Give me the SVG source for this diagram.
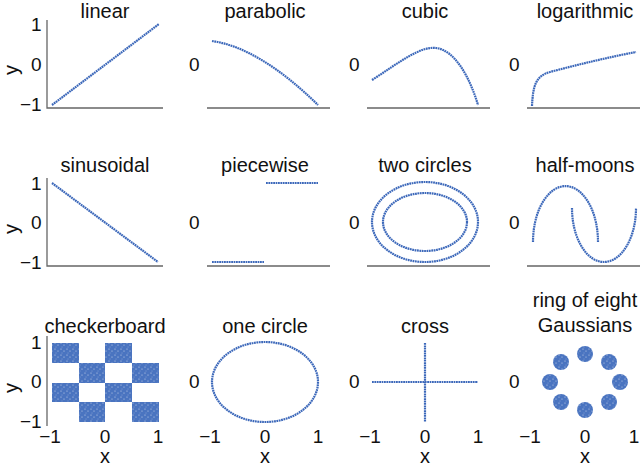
<svg xmlns="http://www.w3.org/2000/svg" width="640" height="468" viewBox="0 0 640 468">
<style>
text{font-family:"Liberation Sans",Arial,sans-serif;font-size:19px;fill:#111}
.h{font-size:20px}
.t{text-anchor:middle}
.ax{stroke:#666;stroke-width:1.3;fill:none}
.d{stroke:#3c68ba;stroke-width:2.2;fill:none;stroke-dasharray:1.8 0.6}
.f{fill:url(#dots)}
</style>
<defs>
<pattern id="dots" width="6" height="6" patternUnits="userSpaceOnUse">
<rect width="6" height="6" fill="#4a74c0"/>
<circle cx="1" cy="1" r="0.6" fill="#c8d4ec"/><circle cx="4" cy="3" r="0.5" fill="#dfe6f4"/><circle cx="2" cy="5" r="0.45" fill="#b0c2e4"/>
</pattern>
</defs>
<rect width="640" height="468" fill="#fff"/>
<g id="axes">
<path class="ax" d="M47,20V108H163M207,108H330M367,108H490M527,108H640"/>
<path class="ax" d="M47,178V266H163M207,266H330M367,266H490M527,266H640"/>
<path class="ax" d="M47,336V426"/>
</g>
<g id="labels">
<text x="105" y="18" class="t h">linear</text>
<text x="265" y="18" class="t h">parabolic</text>
<text x="425" y="18" class="t h">cubic</text>
<text x="585" y="18" class="t h">logarithmic</text>
<text x="105" y="172" class="t h">sinusoidal</text>
<text x="265" y="172" class="t h">piecewise</text>
<text x="425" y="172" class="t h">two circles</text>
<text x="585" y="172" class="t h">half-moons</text>
<text x="105" y="333" class="t h">checkerboard</text>
<text x="265" y="333" class="t h">one circle</text>
<text x="425" y="333" class="t h">cross</text>
<text x="585" y="307" class="t h">ring of eight</text>
<text x="585" y="332" class="t h">Gaussians</text>
<text x="31" y="31">1</text><text x="31" y="71">0</text><text x="20" y="111">−1</text>
<text x="31" y="190">1</text><text x="31" y="229">0</text><text x="20" y="269">−1</text>
<text x="31" y="349">1</text><text x="31" y="388">0</text><text x="20" y="428">−1</text>
<text x="189" y="71">0</text><text x="349" y="71">0</text><text x="509" y="71">0</text>
<text x="189" y="229">0</text><text x="349" y="229">0</text><text x="509" y="229">0</text>
<text x="189" y="388">0</text><text x="349" y="388">0</text><text x="509" y="388">0</text>
<text x="12" y="76" class="t h" transform="rotate(-90 12 70)">y</text>
<text x="12" y="235" class="t h" transform="rotate(-90 12 229)">y</text>
<text x="12" y="394" class="t h" transform="rotate(-90 12 388)">y</text>
<text x="50" y="443" class="t">−1</text><text x="105" y="443" class="t">0</text><text x="158" y="443" class="t">1</text>
<text x="210" y="443" class="t">−1</text><text x="265" y="443" class="t">0</text><text x="318" y="443" class="t">1</text>
<text x="370" y="443" class="t">−1</text><text x="425" y="443" class="t">0</text><text x="478" y="443" class="t">1</text>
<text x="530" y="443" class="t">−1</text><text x="585" y="443" class="t">0</text><text x="634" y="443" class="t">1</text>
<text x="105" y="463" class="t h">x</text><text x="265" y="463" class="t h">x</text><text x="425" y="463" class="t h">x</text><text x="585" y="463" class="t h">x</text>
</g>
<g id="data">
<path class="d" d="M52,105L159,24"/>
<path class="d" d="M212,41Q260,48 318,105"/>
<path class="d" d="M372,80C400,62 420,46 436,48C455,50 470,78 478,105"/>
<path class="d" d="M532,106C533,85 536,76 550,72C580,64 610,57 636,52"/>
<path class="d" d="M52,183L158,262"/>
<path class="d" d="M212,262H264M266,183H318"/>
<ellipse class="d" cx="425" cy="222" rx="53" ry="40"/>
<ellipse class="d" cx="425" cy="222" rx="42" ry="29"/>
<path class="d" d="M533,242A32,55 0 0 1 598,242"/>
<path class="d" d="M572,208A32,54 0 0 0 636,208"/>
<path class="f" d="M52,343h27v20h-27zM105,343h27v20h-27zM79,363h26v20h-26zM132,363h27v20h-27zM52,383h27v19h-27zM105,383h27v19h-27zM79,402h26v20h-26zM132,402h27v20h-27z"/>
<ellipse class="d" cx="265" cy="382" rx="53" ry="40"/>
<path class="d" d="M372,382H478M425,343V422"/>
<g class="f">
<circle cx="585" cy="354" r="8"/><circle cx="609" cy="362" r="8"/><circle cx="620" cy="382" r="8"/><circle cx="609" cy="402" r="8"/>
<circle cx="585" cy="410" r="8"/><circle cx="561" cy="402" r="8"/><circle cx="550" cy="382" r="8"/><circle cx="561" cy="362" r="8"/>
</g>
</g>
</svg>
